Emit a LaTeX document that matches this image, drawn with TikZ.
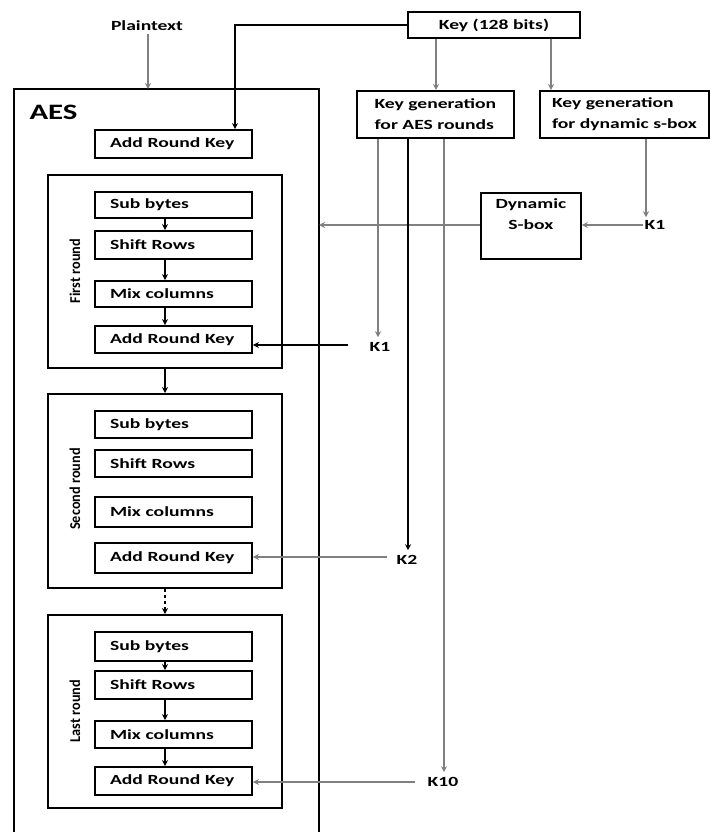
\documentclass[tikz,border=0pt]{standalone}
\usepackage{fontspec}
\newfontfamily\widefont{Carlito}[FakeStretch=1.4]
\newfontfamily\rotfont{Carlito}[FakeStretch=0.95]
\usetikzlibrary{arrows.meta,calc}
\begin{document}
\begin{tikzpicture}[x=1pt,y=-1pt,
  every node/.style={font=\widefont\bfseries\fontsize{14}{21}\selectfont, text=black},
  stage/.style={draw, line width=1.8pt, minimum width=157pt, minimum height=28pt,
    inner xsep=15pt, inner ysep=0pt, text width=127pt, align=left},
  roundbox/.style={draw, line width=1.8pt, minimum width=234pt, anchor=north west},
  genbox/.style={draw, line width=1.8pt, minimum height=47pt, anchor=north west, inner xsep=14pt, align=left},
  rlabel/.style={font=\rotfont\bfseries\fontsize{15}{17}\selectfont, rotate=90},
  klabel/.style={inner sep=1pt},
  arr/.style={-{Stealth[length=6pt,width=6pt]}, line width=1.3pt},
  garr/.style={arr, draw=black!50},
  gline/.style={line width=1.3pt, draw=black!50}
]
\useasboundingbox (0,0) rectangle (709,832);

% outer AES frame
\coordinate (aesTL) at (14,89);
\coordinate (aesTR) at (319,89);
\coordinate (aesBL) at (14,832);
\coordinate (aesBR) at (319,832);
\draw[line width=1.8pt] (aesBL) -- (aesTL) -- (aesTR) -- (aesBR);
\node[font=\widefont\bfseries\fontsize{22}{24}\selectfont, anchor=west] (aes) at (26,112) {AES};

% top texts and key
\node (pt) at (147,26) {Plaintext};
\node[draw, line width=1.8pt, minimum width=172pt, minimum height=26pt, inner sep=0pt] (key) at (494,25) {Key (128 bits)};

% key generation boxes
\node[genbox, minimum width=157pt] (kgA) at (356,90) {Key generation\\for AES rounds};
\node[genbox, minimum width=169pt, inner xsep=12pt] (kgD) at (539,90) {Key generation\\for dynamic s-box};

% Dynamic S-box
\node[draw, line width=1.8pt, minimum width=100pt, minimum height=66pt, anchor=north west] (sbox) at (480,192) {};
\node[align=center, anchor=north] (sboxt) at ($(sbox.north)+(0,3)$) {Dynamic\\S-box};

% initial add round key
\node[stage] (ark0) at (173.5,144) {Add Round Key};

% rounds
\node[roundbox, minimum height=193pt] (r1) at (47,174) {};
\node[roundbox, minimum height=194pt] (r2) at (47,393) {};
\node[roundbox, minimum height=193pt] (r3) at (47,614) {};
\node[rlabel] (l1) at (75,271) {First round};
\node[rlabel] (l2) at (75,489) {Second round};
\node[rlabel] (l3) at (75,711) {Last round};

\node[stage, minimum height=26pt] (sb1) at (173.5,205) {Sub bytes};
\node[stage] (sr1) at (173.5,245) {Shift Rows};
\node[stage, minimum height=26pt] (mc1) at (173.5,294) {Mix columns};
\node[stage, minimum height=27pt] (ak1) at (173.5,339.5) {Add Round Key};

\node[stage, minimum height=27pt] (sb2) at (173.5,424.5) {Sub bytes};
\node[stage, minimum height=27pt] (sr2) at (173.5,463.5) {Shift Rows};
\node[stage, minimum height=30pt] (mc2) at (173.5,512) {Mix columns};
\node[stage, minimum height=30pt] (ak2) at (173.5,558) {Add Round Key};

\node[stage, minimum height=29pt] (sb3) at (173.5,646.5) {Sub bytes};
\node[stage] (sr3) at (173.5,685) {Shift Rows};
\node[stage, minimum height=27pt] (mc3) at (173.5,734.5) {Mix columns};
\node[stage] (ak3) at (173.5,781) {Add Round Key};

% key labels
\node[klabel] (k1) at (380,347) {K1};
\node[klabel] (k2) at (407,560) {K2};
\node[klabel] (k10) at (443,782) {K10};
\node[klabel] (kd) at (655,225) {K1};

% helper x coordinates
\coordinate (ax) at (165,0);
\coordinate (kx) at (235,0);
\coordinate (px) at (148,0);
\coordinate (x1) at (378,0);
\coordinate (x2) at (408,0);
\coordinate (x3) at (444,0);
\coordinate (xa) at (436,0);
\coordinate (xd) at (551,0);
\coordinate (xk) at (646,0);

% plaintext arrow
\draw[garr] (pt.south -| px) -- (aesTL -| px);

% key to first add round key
\draw[arr] (key.west) -| (kx |- ark0.north);

% key to generators
\draw[garr] (key.south -| xa) -- (kgA.north -| xa);
\draw[garr] (key.south -| xd) -- (kgD.north -| xd);

% generator for s-box to K1 to S-box to AES
\draw[garr] (kgD.south -| xk) -- ($(kd.north -| xk)+(0,-2)$);
\draw[garr] (kd.west) -- (sbox.east |- kd.west);
\draw[garr] (sbox.west |- kd.west) -- (aesTR |- kd.west);

% round key lines
\draw[garr] (kgA.south -| x1) -- ($(k1.north -| x1)+(0,-4)$);
\draw[arr] (kgA.south -| x2) -- ($(k2.north -| x2)+(0,-4)$);
\draw[garr] (kgA.south -| x3) -- ($(k10.north -| x3)+(0,-4)$);

\draw[arr] ($(k1.west)+(-20,-2)$) -- (ak1.east |- {(0,345)});
\draw[garr] ($(k2.west)+(-8,-3)$) -- (ak2.east |- {(0,557)});
\draw[garr] ($(k10.west)+(-12,0)$) -- (ak3.east |- k10.west);

% arrows inside rounds
\draw[arr] (sb1.south -| ax) -- (sr1.north -| ax);
\draw[arr] (sr1.south -| ax) -- (mc1.north -| ax);
\draw[arr] (mc1.south -| ax) -- (ak1.north -| ax);
\draw[arr] (r1.south -| ax) -- (r2.north -| ax);
\draw[arr, dashed, dash pattern=on 3pt off 3pt] (r2.south -| ax) -- (r3.north -| ax);
\draw[arr] (sb3.south -| ax) -- (sr3.north -| ax);
\draw[arr] (sr3.south -| ax) -- (mc3.north -| ax);
\draw[arr] (mc3.south -| ax) -- (ak3.north -| ax);
\end{tikzpicture}
\end{document}
